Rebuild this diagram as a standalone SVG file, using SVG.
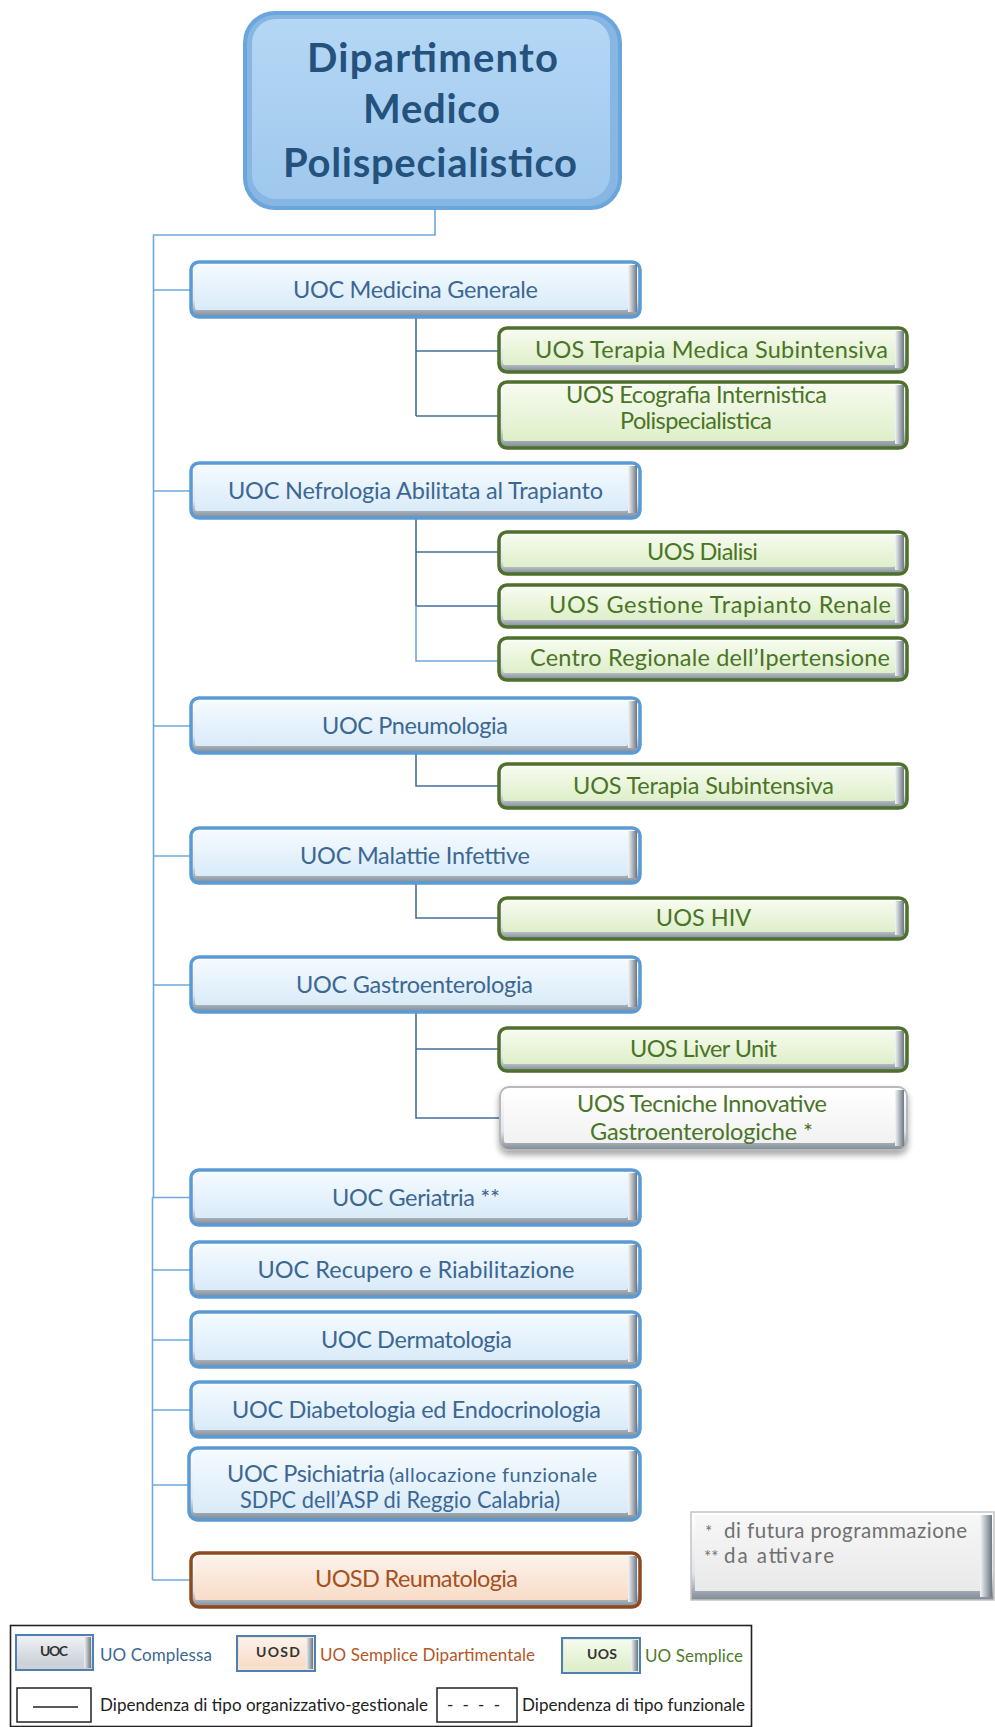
<svg xmlns="http://www.w3.org/2000/svg" width="995" height="1727" viewBox="0 0 995 1727">
<defs>
<linearGradient id="faceUoc" x1="0" y1="0" x2="0" y2="1"><stop offset="0" stop-color="#f4faff"/><stop offset="1" stop-color="#d9ebf8"/></linearGradient>
<linearGradient id="faceUos" x1="0" y1="0" x2="0" y2="1"><stop offset="0" stop-color="#f6fbee"/><stop offset="1" stop-color="#deefca"/></linearGradient>
<linearGradient id="faceUosd" x1="0" y1="0" x2="0" y2="1"><stop offset="0" stop-color="#fdf2ea"/><stop offset="1" stop-color="#f8dcc8"/></linearGradient>
<linearGradient id="faceWhite" x1="0" y1="0" x2="0" y2="1"><stop offset="0" stop-color="#ffffff"/><stop offset="1" stop-color="#f1f1f1"/></linearGradient>
<linearGradient id="faceNote" x1="0" y1="0" x2="0" y2="1"><stop offset="0" stop-color="#f7f7f7"/><stop offset="1" stop-color="#e9e9e9"/></linearGradient>
<linearGradient id="faceTitle" x1="0" y1="0" x2="0" y2="1"><stop offset="0" stop-color="#b5d7f5"/><stop offset="1" stop-color="#9fc8ed"/></linearGradient>
<linearGradient id="faceLeg" x1="0" y1="0" x2="0" y2="1"><stop offset="0" stop-color="#eef1f4"/><stop offset="1" stop-color="#c9d0d6"/></linearGradient>
<linearGradient id="bevelV" x1="0" y1="0" x2="0" y2="1"><stop offset="0" stop-color="#ffffff"/><stop offset="0.7" stop-color="#dfe5ea"/><stop offset="1" stop-color="#7f8a95"/></linearGradient>
<linearGradient id="bevelR" x1="0" y1="0" x2="1" y2="0"><stop offset="0" stop-color="#f4f6f8"/><stop offset="1" stop-color="#6c7782"/></linearGradient>
<filter id="shadow" x="-10%" y="-20%" width="120%" height="160%"><feDropShadow dx="0" dy="4" stdDeviation="3" flood-color="#000" flood-opacity="0.35"/></filter>
</defs>
<style>
text{font-family:Lato,"Liberation Sans",sans-serif}
.main{stroke:#6fa8dc;stroke-width:1.6;fill:none}
.sub{stroke:#41709c;stroke-width:1.6;fill:none}
.uoc-o{fill:url(#bevelV);stroke:#5b9bd5;stroke-width:3.5}
.uos-o{fill:url(#bevelV);stroke:#4f6f2c;stroke-width:3.5}
.uosd-o{fill:url(#bevelV);stroke:#8e4a1f;stroke-width:3.5}
.tec-o{fill:url(#bevelV);stroke:#b9b9b9;stroke-width:2}
.rb{fill:url(#bevelR)}
.f-uoc{fill:url(#faceUoc)}
.f-uos{fill:url(#faceUos)}
.f-uosd{fill:url(#faceUosd)}
.t-uoc{fill:#3c6793;font-size:23.5px}
.t-uos{fill:#4a7426;font-size:23.5px}
.t-uosd{fill:#a5521f;font-size:23.5px}
.t-title{fill:#24527d;font-size:40px;font-weight:bold}
.t-note{fill:#707070;font-size:20.5px}
.t-leg{font-size:17px}
.t-legb{fill:#333;font-size:14px;font-weight:bold}
.lg-o{fill:url(#faceLeg);stroke:#4f7fb3;stroke-width:2}
.lbox{fill:none;stroke:#222;stroke-width:1.5}
.mid{text-anchor:middle}
</style>

<g id="connectors">
<path class="main" d="M435 208 V235 H153.5 V1197.5 M152.5 1197 V1580"/>
<path class="main" d="M153 290 H191 M153 491 H191 M153 726 H191 M153 856 H191 M153 985 H191 M152.5 1197.5 H191 M152.5 1270 H191 M152.5 1340 H191 M152.5 1410 H191 M152.5 1485 H189 M152.5 1580 H191"/>
<path class="sub" d="M416 317 V416 M416 351 H499 M416 416 H499"/>
<path class="sub" d="M416 518 V606 M416 552 H499 M416 606 H499"/>
<path class="main" d="M416 606 V661 H499"/>
<path class="sub" d="M416 753 V786 H499"/>
<path class="sub" d="M416 883 V918 H499"/>
<path class="sub" d="M416 1012 V1118 H499 M416 1049 H499"/>
</g>

<g id="dipartimento">
<rect x="245" y="13" width="375" height="195" rx="30" fill="#87b6e3" stroke="#6aa5dc" stroke-width="4"/>
<rect x="252" y="19" width="358" height="180" rx="24" fill="url(#faceTitle)"/>
<text class="t-title" x="307" y="72" textLength="251">Dipartimento</text>
<text class="t-title" x="363" y="123" textLength="137">Medico</text>
<text class="t-title" x="283" y="177" textLength="294">Polispecialistico</text>
</g>

<g id="uoc-medicina">
<rect class="uoc-o" x="191" y="262" width="449" height="55" rx="8"/>
<rect class="rb" x="628" y="265" width="9" height="47"/>
<rect class="f-uoc" x="195" y="265" width="433" height="45" rx="2"/>
<text class="t-uoc" x="293" y="298" textLength="245">UOC Medicina Generale</text>
</g>

<g id="uos-terapia-medica">
<rect class="uos-o" x="499" y="328" width="408" height="44" rx="8"/>
<rect class="rb" x="895" y="331" width="9" height="37"/>
<rect class="f-uos" x="503" y="331" width="392" height="34" rx="2"/>
<text class="t-uos" x="535" y="358" textLength="353">UOS Terapia Medica Subintensiva</text>
</g>

<g id="uos-ecografia">
<rect class="uos-o" x="499" y="382" width="408" height="66" rx="8"/>
<rect class="rb" x="895" y="385" width="9" height="59"/>
<rect class="f-uos" x="503" y="385" width="392" height="56" rx="2"/>
<text class="t-uos" x="566" y="403" textLength="261">UOS Ecografia Internistica</text>
<text class="t-uos" x="620" y="429" textLength="152">Polispecialistica</text>
</g>

<g id="uoc-nefrologia">
<rect class="uoc-o" x="191" y="463" width="449" height="55" rx="8"/>
<rect class="rb" x="628" y="466" width="9" height="47"/>
<rect class="f-uoc" x="195" y="466" width="433" height="45" rx="2"/>
<text class="t-uoc" x="228" y="499" textLength="375">UOC Nefrologia Abilitata al Trapianto</text>
</g>

<g id="uos-dialisi">
<rect class="uos-o" x="499" y="532" width="408" height="42" rx="8"/>
<rect class="rb" x="895" y="535" width="9" height="35"/>
<rect class="f-uos" x="503" y="535" width="392" height="32" rx="2"/>
<text class="t-uos" x="647" y="560" textLength="111">UOS Dialisi</text>
</g>

<g id="uos-gestione">
<rect class="uos-o" x="499" y="585" width="408" height="42" rx="8"/>
<rect class="rb" x="895" y="588" width="9" height="35"/>
<rect class="f-uos" x="503" y="588" width="392" height="32" rx="2"/>
<text class="t-uos" x="549" y="613" textLength="342">UOS Gestione Trapianto Renale</text>
</g>

<g id="centro-ipertensione">
<rect class="uos-o" x="499" y="638" width="408" height="42" rx="8"/>
<rect class="rb" x="895" y="641" width="9" height="35"/>
<rect class="f-uos" x="503" y="641" width="392" height="32" rx="2"/>
<text class="t-uos" x="530" y="666" textLength="360">Centro Regionale dell’Ipertensione</text>
</g>

<g id="uoc-pneumologia">
<rect class="uoc-o" x="191" y="698" width="449" height="55" rx="8"/>
<rect class="rb" x="628" y="701" width="9" height="47"/>
<rect class="f-uoc" x="195" y="701" width="433" height="45" rx="2"/>
<text class="t-uoc" x="322" y="734" textLength="186">UOC Pneumologia</text>
</g>

<g id="uos-terapia-sub">
<rect class="uos-o" x="499" y="764" width="408" height="44" rx="8"/>
<rect class="rb" x="895" y="767" width="9" height="37"/>
<rect class="f-uos" x="503" y="767" width="392" height="34" rx="2"/>
<text class="t-uos" x="573" y="794" textLength="261">UOS Terapia Subintensiva</text>
</g>

<g id="uoc-malattie">
<rect class="uoc-o" x="191" y="828" width="449" height="55" rx="8"/>
<rect class="rb" x="628" y="831" width="9" height="47"/>
<rect class="f-uoc" x="195" y="831" width="433" height="45" rx="2"/>
<text class="t-uoc" x="300" y="864" textLength="230">UOC Malattie Infettive</text>
</g>

<g id="uos-hiv">
<rect class="uos-o" x="499" y="898" width="408" height="41" rx="8"/>
<rect class="rb" x="895" y="901" width="9" height="34"/>
<rect class="f-uos" x="503" y="901" width="392" height="31" rx="2"/>
<text class="t-uos mid" x="703.5" y="926">UOS HIV</text>
</g>

<g id="uoc-gastro">
<rect class="uoc-o" x="191" y="957" width="449" height="55" rx="8"/>
<rect class="rb" x="628" y="960" width="9" height="47"/>
<rect class="f-uoc" x="195" y="960" width="433" height="45" rx="2"/>
<text class="t-uoc" x="296" y="993" textLength="237">UOC Gastroenterologia</text>
</g>

<g id="uos-liver">
<rect class="uos-o" x="499" y="1028" width="408" height="43" rx="8"/>
<rect class="rb" x="895" y="1031" width="9" height="36"/>
<rect class="f-uos" x="503" y="1031" width="392" height="33" rx="2"/>
<text class="t-uos" x="630" y="1057" textLength="147">UOS Liver Unit</text>
</g>

<g id="uos-tecniche">
<rect class="tec-o" x="500" y="1087" width="407" height="63" rx="9" filter="url(#shadow)"/>
<rect class="rb" x="895" y="1090" width="9" height="56"/>
<rect x="504" y="1090" width="391" height="53" rx="2" fill="url(#faceWhite)"/>
<text class="t-uos" x="577" y="1112" textLength="250">UOS Tecniche Innovative</text>
<text class="t-uos" x="590" y="1140" textLength="223">Gastroenterologiche *</text>
</g>

<g id="uoc-geriatria">
<rect class="uoc-o" x="191" y="1170" width="449" height="55" rx="8"/>
<rect class="rb" x="628" y="1173" width="9" height="47"/>
<rect class="f-uoc" x="195" y="1173" width="433" height="45" rx="2"/>
<text class="t-uoc" x="332" y="1206" textLength="168">UOC Geriatria **</text>
</g>

<g id="uoc-recupero">
<rect class="uoc-o" x="191" y="1242" width="449" height="55" rx="8"/>
<rect class="rb" x="628" y="1245" width="9" height="47"/>
<rect class="f-uoc" x="195" y="1245" width="433" height="45" rx="2"/>
<text class="t-uoc mid" x="416" y="1278">UOC Recupero e Riabilitazione</text>
</g>

<g id="uoc-dermatologia">
<rect class="uoc-o" x="191" y="1312" width="449" height="55" rx="8"/>
<rect class="rb" x="628" y="1315" width="9" height="47"/>
<rect class="f-uoc" x="195" y="1315" width="433" height="45" rx="2"/>
<text class="t-uoc" x="321" y="1348" textLength="191">UOC Dermatologia</text>
</g>

<g id="uoc-diabetologia">
<rect class="uoc-o" x="191" y="1382" width="449" height="55" rx="8"/>
<rect class="rb" x="628" y="1385" width="9" height="47"/>
<rect class="f-uoc" x="195" y="1385" width="433" height="45" rx="2"/>
<text class="t-uoc" x="232" y="1418" textLength="369">UOC Diabetologia ed Endocrinologia</text>
</g>

<g id="uoc-psichiatria">
<rect class="uoc-o" x="189" y="1448" width="451" height="72" rx="9"/>
<rect class="rb" x="628" y="1451" width="9" height="64"/>
<rect class="f-uoc" x="193" y="1451" width="435" height="62" rx="2"/>
<text class="t-uoc" x="227" y="1482" textLength="158">UOC Psichiatria</text>
<text class="t-uoc" x="389" y="1482" textLength="208" style="font-size:20px">(allocazione funzionale</text>
<text class="t-uoc" x="240" y="1508" textLength="320" lengthAdjust="spacingAndGlyphs">SDPC dell’ASP di Reggio Calabria)</text>
</g>

<g id="uosd-reumatologia">
<rect class="uosd-o" x="191" y="1553" width="449" height="54" rx="8"/>
<rect class="rb" x="628" y="1556" width="9" height="46"/>
<rect class="f-uosd" x="195" y="1556" width="433" height="44" rx="2"/>
<text class="t-uosd" x="315" y="1587" textLength="203">UOSD Reumatologia</text>
</g>

<g id="note">
<rect x="691" y="1512" width="303" height="88" fill="url(#bevelV)" stroke="#c4c4c4" stroke-width="1.5"/>
<rect class="rb" x="980" y="1515" width="12" height="82"/>
<rect x="695" y="1515" width="285" height="76" fill="url(#faceNote)"/>
<text class="t-note" x="705" y="1538" style="font-size:17px">*</text>
<text class="t-note" x="724" y="1538" textLength="243">di futura programmazione</text>
<text class="t-note" x="704" y="1563" style="font-size:17px">**</text>
<text class="t-note" x="724" y="1563" textLength="110">da attivare</text>
</g>

<g id="legend">
<rect x="10.5" y="1625.5" width="741" height="101" fill="#fff" stroke="#222" stroke-width="1.6"/>
<rect class="lg-o" x="16" y="1635" width="77" height="35"/>
<rect class="rb" x="84" y="1637" width="7" height="31"/>
<rect x="18" y="1637" width="66" height="28" fill="url(#faceLeg)"/>
<text class="t-legb" x="40" y="1656" textLength="28">UOC</text>
<text class="t-leg" x="100" y="1661" textLength="112" fill="#3c6793">UO Complessa</text>
<rect class="lg-o" x="237" y="1636" width="78" height="35" style="fill:#f8e0cf"/>
<rect class="rb" x="306" y="1638" width="7" height="31"/>
<rect x="239" y="1638" width="67" height="28" fill="url(#faceUosd)"/>
<text class="t-legb" x="256" y="1657" textLength="44">UOSD</text>
<text class="t-leg" x="320" y="1661" textLength="215" fill="#b25726">UO Semplice Dipartimentale</text>
<rect class="lg-o" x="562" y="1638" width="78" height="35" style="fill:#dfeecf"/>
<rect class="rb" x="631" y="1640" width="7" height="31"/>
<rect x="564" y="1640" width="67" height="28" fill="url(#faceUos)"/>
<text class="t-legb" x="587" y="1659" textLength="30">UOS</text>
<text class="t-leg" x="645" y="1662" textLength="98" fill="#4e7a2a">UO Semplice</text>
<rect class="lbox" x="17" y="1688" width="74" height="34"/>
<line x1="33" y1="1707" x2="78" y2="1707" stroke="#222" stroke-width="1.3"/>
<text class="t-leg" x="100" y="1711" textLength="328" fill="#222">Dipendenza di tipo organizzativo-gestionale</text>
<rect class="lbox" x="437" y="1688" width="80" height="34"/>
<text class="t-leg" x="447" y="1711" textLength="53" fill="#222">----</text>
<text class="t-leg" x="522" y="1711" textLength="223" fill="#222">Dipendenza di tipo funzionale</text>
</g>
</svg>
